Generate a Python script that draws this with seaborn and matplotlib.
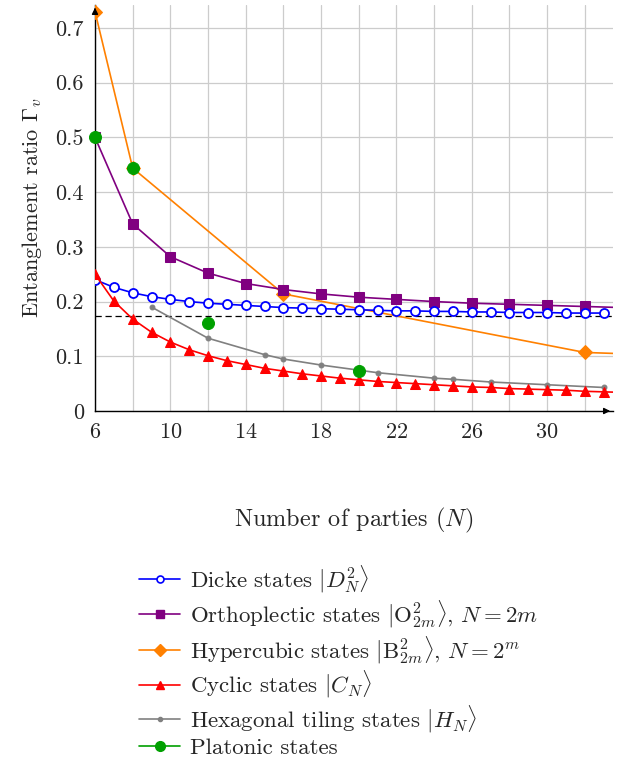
import matplotlib
matplotlib.use("Agg")
import matplotlib.pyplot as plt
import seaborn as sns
import pandas as pd
from matplotlib.lines import Line2D
from matplotlib.ticker import MultipleLocator, FuncFormatter

# data
dicke_n = list(range(6, 34))
dicke_v = [0.240, 0.226, 0.216, 0.209, 0.204, 0.200, 0.197, 0.195, 0.193, 0.191,
           0.189, 0.188, 0.187, 0.186, 0.185, 0.184, 0.183, 0.183, 0.182, 0.182,
           0.181, 0.181, 0.180, 0.180, 0.180, 0.179, 0.179, 0.179]

ortho_n = [6, 8, 10, 12, 14, 16, 18, 20, 22, 24, 26, 28, 30, 32, 34]
ortho_v = [0.500, 0.342, 0.282, 0.252, 0.233, 0.222, 0.214, 0.208, 0.204, 0.200,
           0.197, 0.195, 0.193, 0.191, 0.189]

hyper_n = [6, 8, 16, 32, 64]
hyper_v = [0.730, 0.444, 0.214, 0.107, 0.070]

cyclic_n = list(range(6, 35))
cyclic_v = [0.250, 0.201, 0.168, 0.144, 0.126, 0.112, 0.101, 0.092, 0.085, 0.078,
            0.073, 0.068, 0.064, 0.060, 0.057, 0.054, 0.052, 0.050, 0.048, 0.046,
            0.044, 0.043, 0.041, 0.040, 0.039, 0.038, 0.036, 0.035, 0.034]

hex_n = [9, 12, 15, 16, 18, 21, 24, 25, 27, 30, 33]
hex_v = [0.190, 0.133, 0.103, 0.095, 0.084, 0.070, 0.060, 0.058, 0.053, 0.048, 0.043]

plato_n = [6, 8, 12, 20]
plato_v = [0.500, 0.444, 0.160, 0.074]

limit_v = 0.173

x_ticks = [6, 10, 14, 18, 22, 26, 30]

labels = [r"Dicke states $|D_N^2\rangle$",
          r"Orthoplectic states $|\mathrm{O}_{2m}^2\rangle$, $N=2m$",
          r"Hypercubic states $|\mathrm{B}_{2m}^2\rangle$, $N=2^m$",
          r"Cyclic states $|C_N\rangle$",
          r"Hexagonal tiling states $|H_N\rangle$",
          "Platonic states"]

sns.set_style("white")
plt.rcParams["font.family"] = "serif"
plt.rcParams["font.serif"] = ["cmr10", "DejaVu Serif"]
plt.rcParams["mathtext.fontset"] = "cm"
plt.rcParams["axes.formatter.use_mathtext"] = True
plt.rcParams["font.size"] = 16

fig = plt.figure(figsize=(6.21, 7.6), dpi=100)
ax = fig.add_axes([95 / 621, 1 - 411 / 760, (613 - 95) / 621, (411 - 5) / 760])

lw = 1.2
ax.axhline(limit_v, color="black", lw=0.9, ls=(0, (5, 3)), zorder=2)

sns.lineplot(x=hyper_n, y=hyper_v, ax=ax, color="#ff8000", lw=lw, marker="D",
             markersize=7, markeredgecolor="#ff8000", zorder=3)
sns.lineplot(x=ortho_n, y=ortho_v, ax=ax, color="#800080", lw=lw, marker="s",
             markersize=7, markeredgecolor="#800080", zorder=4)
sns.lineplot(x=dicke_n, y=dicke_v, ax=ax, color="blue", lw=lw, marker="o",
             markersize=6.5, markerfacecolor="white", markeredgecolor="blue",
             markeredgewidth=1.3, zorder=5)
sns.lineplot(x=hex_n, y=hex_v, ax=ax, color="gray", lw=lw, marker="o",
             markersize=3.5, markeredgecolor="gray", zorder=4)
sns.lineplot(x=cyclic_n, y=cyclic_v, ax=ax, color="red", lw=lw, marker="^",
             markersize=7, markeredgecolor="red", zorder=5)
sns.scatterplot(x=plato_n, y=plato_v, ax=ax, color="#00a000", s=75,
                edgecolor="#00a000", zorder=6, clip_on=False)

ax.set_xlim(6, 33.5)
ax.set_ylim(0, 0.742)
ax.set_xticks(x_ticks)
ax.xaxis.set_minor_locator(MultipleLocator(2))
ax.yaxis.set_major_locator(MultipleLocator(0.1))
ax.yaxis.set_major_formatter(FuncFormatter(lambda v, p: "0" if abs(v) < 1e-9 else f"{v:.1f}"))
ax.grid(True, which="both", color="#cccccc", lw=0.9, zorder=0)
ax.tick_params(axis="both", which="both", direction="out", length=4, width=0.8,
               color="#999999", labelsize=16, pad=4)
ax.set_axisbelow(True)

for s in ["top", "right"]:
    ax.spines[s].set_visible(False)
for s in ["left", "bottom"]:
    ax.spines[s].set_color("black")
    ax.spines[s].set_linewidth(1.0)
ax.annotate("", xy=(0, 1.0), xytext=(0, 0.98), xycoords="axes fraction",
            arrowprops=dict(arrowstyle="-|>", color="black", lw=1.0, mutation_scale=9))
ax.annotate("", xy=(1.0, 0), xytext=(0.98, 0), xycoords="axes fraction",
            arrowprops=dict(arrowstyle="-|>", color="black", lw=1.0, mutation_scale=9))

ax.set_ylabel(r"Entanglement ratio $\Gamma_v$", fontsize=16, labelpad=8)
ax.set_xlabel(r"Number of parties ($N$)", fontsize=17.5, labelpad=46)

handles = [
    Line2D([], [], color="blue", lw=lw, marker="o", markersize=5, markerfacecolor="white",
           markeredgecolor="blue", markeredgewidth=1.2),
    Line2D([], [], color="#800080", lw=lw, marker="s", markersize=6),
    Line2D([], [], color="#ff8000", lw=lw, marker="D", markersize=6),
    Line2D([], [], color="red", lw=lw, marker="^", markersize=6),
    Line2D([], [], color="gray", lw=lw, marker="o", markersize=3),
    Line2D([], [], color="#00a000", lw=lw, marker="o", markersize=7),
]
fig.legend(handles, labels, loc="upper left", bbox_to_anchor=(130 / 621, 1 - 554 / 760),
           frameon=False, fontsize=16.5, handlelength=1.8, handletextpad=0.4,
           labelspacing=0.15, borderaxespad=0)

fig.savefig("out.png", dpi=100)
